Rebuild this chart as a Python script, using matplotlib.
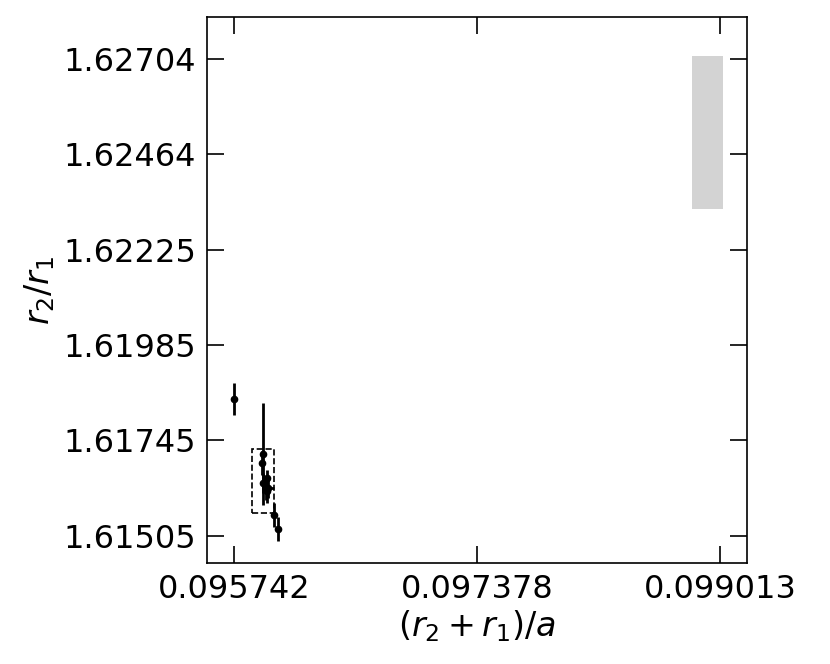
import matplotlib.pyplot as plt
from matplotlib.patches import Rectangle

# data
x_vals = [0.095742, 0.095935, 0.095928, 0.095938, 0.095955, 0.095972, 0.095962, 0.095965, 0.096011, 0.096038]
y_vals = [1.618494, 1.617111, 1.616885, 1.616382, 1.616250, 1.616250, 1.616180, 1.616500, 1.615578, 1.615226]
y_err = [0.00040, 0.00128, 0.00030, 0.00025, 0.00030, 0.00025, 0.00030, 0.00020, 0.00030, 0.00030]
x_err = [0.0, 0.0, 0.0, 0.0, 0.0, 0.00004, 0.0, 0.0, 0.0, 0.0]

x_ticks = [0.095742, 0.097378, 0.099013]
y_ticks = [1.61505, 1.61745, 1.61985, 1.62225, 1.62464, 1.62704]

box_zoom = (0.095863, 1.615628, 0.096011, 1.617237)   # dashed box
box_grey = (0.098825, 1.62327, 0.099033, 1.627115)    # grey band

fig = plt.figure(figsize=(8.3, 6.64), dpi=100)
ax = fig.add_axes([207 / 830, 1 - 563 / 664, 540 / 830, 546 / 664])

ax.errorbar(x_vals, y_vals, yerr=y_err, xerr=x_err, fmt='o', color='black', ms=4.5, elinewidth=2, capsize=0)

x0, y0, x1, y1 = box_zoom
ax.add_patch(Rectangle((x0, y0), x1 - x0, y1 - y0, fill=False, ls='--', lw=1.2, edgecolor='black'))
x0, y0, x1, y1 = box_grey
ax.add_patch(Rectangle((x0, y0), x1 - x0, y1 - y0, facecolor='lightgrey', edgecolor='none'))

ax.set_xlim(0.09556, 0.099195)
ax.set_ylim(1.61437, 1.628096)
ax.set_xticks(x_ticks)
ax.set_xticklabels(['%.6f' % v for v in x_ticks])
ax.set_yticks(y_ticks)
ax.set_yticklabels(['%.5f' % v for v in y_ticks])
ax.tick_params(direction='in', length=12, width=1.2, labelsize=23, top=True, right=True, pad=8)
for s in ax.spines.values():
    s.set_linewidth(1.2)

ax.set_xlabel('$(r_2+r_1)/a$', fontsize=24, labelpad=2)
ax.set_ylabel('$r_2/r_1$', fontsize=24, labelpad=4)

plt.savefig('out.png', dpi=100)
